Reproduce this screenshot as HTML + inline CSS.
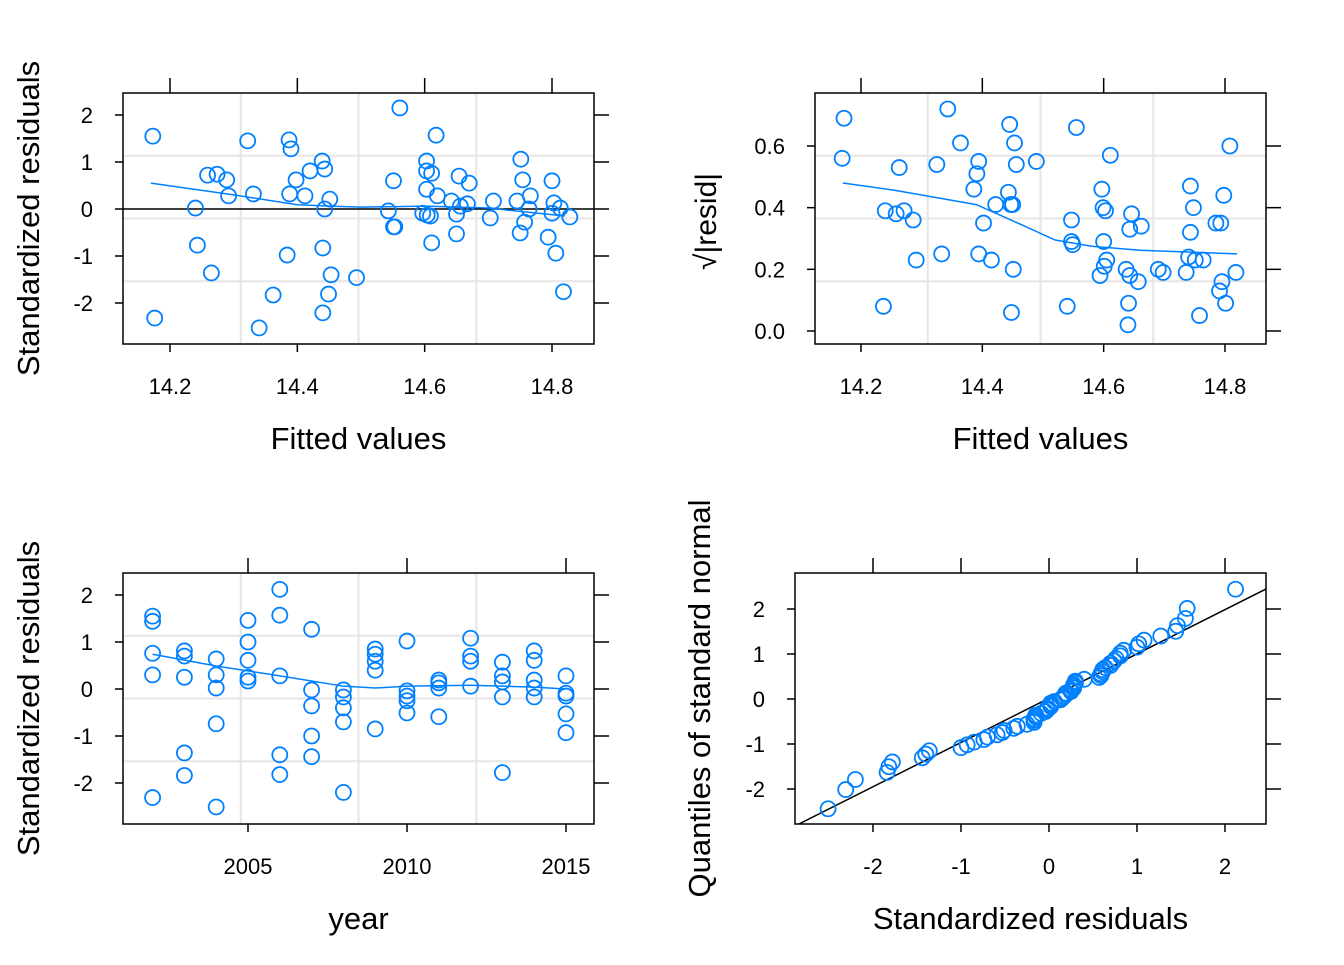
<!DOCTYPE html>
<html><head><meta charset="utf-8"><style>
body{margin:0;background:#fff}
svg text{font-family:"Liberation Sans",Arial,sans-serif;fill:#000}
</style></head><body>
<svg id="c" width="1344" height="960" viewBox="0 0 1344 960"></svg>
<script>
// ---- data ----
const fittedP1 = [14.173,14.176,14.240,14.243,14.259,14.265,14.274,14.289,14.292,14.322,14.331,14.340,14.362,14.384,14.387,14.390,14.388,14.398,14.412,14.420,14.439,14.443,14.443,14.451,14.440,14.453,14.449,14.440,14.493,14.543,14.551,14.551,14.553,14.561,14.597,14.603,14.603,14.603,14.611,14.611,14.609,14.604,14.618,14.620,14.642,14.650,14.650,14.654,14.656,14.670,14.667,14.703,14.708,14.745,14.751,14.754,14.750,14.757,14.766,14.764,14.794,14.800,14.800,14.803,14.806,14.813,14.818,14.828];
const stdResP1 = [1.55,-2.32,0.02,-0.77,0.72,-1.36,0.74,0.62,0.28,1.45,0.32,-2.53,-1.83,-0.98,1.47,1.28,0.32,0.62,0.28,0.81,1.02,0.85,0.00,0.21,-0.83,-1.40,-1.81,-2.21,-1.46,-0.04,0.60,-0.38,-0.38,2.15,-0.09,0.42,1.02,0.81,0.76,-0.72,-0.15,-0.13,1.57,0.28,0.17,-0.11,-0.53,0.70,0.06,0.55,0.11,-0.19,0.17,0.17,1.06,0.62,-0.51,-0.28,0.28,0.00,-0.60,0.60,-0.09,0.13,-0.94,0.02,-1.76,-0.17];
const fittedP2 = [14.172,14.169,14.237,14.240,14.258,14.263,14.271,14.286,14.291,14.325,14.333,14.343,14.364,14.386,14.391,14.394,14.394,14.402,14.415,14.422,14.445,14.443,14.447,14.450,14.453,14.456,14.451,14.448,14.489,14.540,14.547,14.547,14.549,14.555,14.594,14.597,14.599,14.600,14.603,14.605,14.601,14.611,14.637,14.640,14.643,14.646,14.641,14.643,14.657,14.662,14.690,14.698,14.736,14.740,14.743,14.743,14.748,14.751,14.758,14.764,14.785,14.791,14.793,14.795,14.798,14.801,14.808,14.818];
const sqrtResP2 = [0.69,0.56,0.08,0.39,0.38,0.53,0.39,0.36,0.23,0.54,0.25,0.72,0.61,0.46,0.51,0.55,0.25,0.35,0.23,0.41,0.67,0.45,0.41,0.41,0.61,0.54,0.20,0.06,0.55,0.08,0.36,0.29,0.28,0.66,0.18,0.46,0.40,0.29,0.39,0.23,0.21,0.57,0.20,0.02,0.18,0.38,0.09,0.33,0.16,0.34,0.20,0.19,0.19,0.24,0.47,0.32,0.40,0.23,0.05,0.23,0.35,0.13,0.35,0.16,0.44,0.09,0.60,0.19];
const smoothP1X = [14.17,14.30,14.40,14.45,14.50,14.60,14.70,14.82];
const smoothP1Y = [0.55,0.30,0.09,0.06,0.04,0.06,0.02,-0.15];
const smoothP2X = [14.17,14.26,14.39,14.47,14.52,14.58,14.66,14.82];
const smoothP2Y = [0.48,0.455,0.41,0.34,0.295,0.275,0.262,0.25];
const years = [2002,2002,2002,2002,2002,2003,2003,2003,2003,2003,2004,2004,2004,2004,2004,2005,2005,2005,2005,2005,2006,2006,2006,2006,2006,2007,2007,2007,2007,2007,2008,2008,2008,2008,2008,2009,2009,2009,2009,2009,2010,2010,2010,2010,2010,2011,2011,2011,2011,2012,2012,2012,2012,2013,2013,2013,2013,2013,2014,2014,2014,2014,2014,2015,2015,2015,2015,2015];
const stdResP3 = [1.55,1.44,0.76,0.30,-2.31,0.81,0.70,0.25,-1.36,-1.84,0.64,0.30,0.02,-0.74,-2.51,1.46,1.00,0.61,0.25,0.17,2.12,1.57,0.28,-1.40,-1.82,1.27,-0.02,-0.36,-1.00,-1.44,-0.02,-0.17,-0.40,-0.70,-2.20,0.85,0.74,0.59,0.40,-0.85,1.02,-0.04,-0.15,-0.25,-0.51,0.19,0.13,0.02,-0.59,1.08,0.70,0.59,0.06,0.57,0.28,0.15,-0.17,-1.78,0.81,0.61,0.19,0.02,-0.17,0.28,-0.09,-0.15,-0.53,-0.93];
const smoothP3X = [2002,2004,2006,2008,2009,2010,2012,2014,2015];
const smoothP3Y = [0.74,0.49,0.28,0.06,0.02,0.06,0.08,0.04,0.00];
const qqLineIntercept = [0.018];
const qqLineSlope = [0.984];
const ticksP1X = [14.2,14.4,14.6,14.8], ticksP1Y = [-2,-1,0,1,2];
const ticksP2Y = [0.0,0.2,0.4,0.6];
const ticksP3X = [2005,2010,2015];
const ticksP4 = [-2,-1,0,1,2];

const NS='http://www.w3.org/2000/svg';
const svg=document.getElementById('c');
function el(tag,attrs,parent){const e=document.createElementNS(NS,tag);for(const k in attrs)e.setAttribute(k,attrs[k]);(parent||svg).appendChild(e);return e;}
function lin(d0,d1,r0,r1){return v=>r0+(v-d0)*(r1-r0)/(d1-d0);}
const BLUE='#0080ff';

function panel(o){
  const g=el('g',{});
  
  
  const {L,T,R,B}=o;
  if(o.grid){
    [0.25,0.5,0.75].forEach(f=>{
      const gl=el('line',{x1:L+f*(R-L),x2:L+f*(R-L),y1:T,y2:B,stroke:'#e6e6e6','stroke-width':2},g);
      
      const gh=el('line',{x1:L,x2:R,y1:T+f*(B-T),y2:T+f*(B-T),stroke:'#e6e6e6','stroke-width':2},g);
      
    });
  }
  const fr=el('rect',{x:L,y:T,width:R-L,height:B-T,fill:'none',stroke:'#000','stroke-width':1.5},g);
  
  o.xt.forEach(v=>{const x=o.sx(v);
    el('line',{x1:x,x2:x,y1:B,y2:B+8,stroke:'#000','stroke-width':1.5},g);
    el('line',{x1:x,x2:x,y1:T,y2:T-15,stroke:'#000','stroke-width':1.5},g);
    const t=el('text',{x:x,y:B+50,'text-anchor':'middle','font-size':22},g);t.textContent=o.xfmt(v);
    });
  o.yt.forEach(v=>{const y=o.sy(v);
    el('line',{x1:L,x2:L-8,y1:y,y2:y,stroke:'#000','stroke-width':1.5},g);
    el('line',{x1:R,x2:R+15,y1:y,y2:y,stroke:'#000','stroke-width':1.5},g);
    const t=el('text',{x:L-30,y:y+8,'text-anchor':'end','font-size':22},g);t.textContent=o.yfmt(v);
    });
  const xl=el('text',{x:(L+R)/2,y:B+105,'text-anchor':'middle','font-size':31},g);xl.textContent=o.xlab;
  
  const yl=el('text',{x:0,y:0,'text-anchor':'middle','font-size':31,transform:`translate(${o.ylx},${(T+B)/2}) rotate(-90)`},g);yl.textContent=o.ylab;
  
  return g;
}
function points(g,xs,ys,sx,sy){
  xs.forEach((v,i)=>{const c=el('circle',{cx:sx(v),cy:sy(ys[i]),r:7.5,fill:'none',stroke:BLUE,'stroke-width':1.8},g);
    });
}
function curve(g,xs,ys,sx,sy,color,w){
  const p=el('polyline',{points:xs.map((v,i)=>sx(v)+','+sy(ys[i])).join(' '),fill:'none',stroke:color,'stroke-width':w},g);
  
}
const f1=v=>v.toFixed(1);
const fm=v=>String(v);

// Panel 1
{const sx=lin(14.2,14.8,170,552),sy=lin(0,2,209,115);
 const g=panel({name:'residuals-vs-fitted',L:123,T:93,R:594,B:344,sx,sy,xt:ticksP1X,yt:ticksP1Y,xfmt:f1,yfmt:fm,xlab:'Fitted values',ylab:'Standardized residuals',ylx:39,grid:true});
 const h=el('line',{x1:123,x2:594,y1:sy(0),y2:sy(0),stroke:'#000','stroke-width':1.5},g);
 
 points(g,fittedP1,stdResP1,sx,sy);curve(g,smoothP1X,smoothP1Y,sx,sy,BLUE,1.5);}
// Panel 2
{const sx=lin(14.2,14.8,861,1225),sy=lin(0,0.6,331,146);
 const g=panel({name:'scale-location',L:815,T:93,R:1266,B:344,sx,sy,xt:ticksP1X,yt:ticksP2Y,xfmt:f1,yfmt:f1,xlab:'Fitted values',ylab:'',ylx:712,grid:true});
 const t=el('text',{x:0,y:0,'font-size':30,transform:'translate(716,270) rotate(-90)'},g);
 t.textContent='√|resid|';
 points(g,fittedP2,sqrtResP2,sx,sy);curve(g,smoothP2X,smoothP2Y,sx,sy,BLUE,1.5);}
// Panel 3
{const sx=lin(2005,2015,248,566),sy=lin(0,2,689,595);
 const g=panel({name:'residuals-vs-year',L:123,T:573,R:594,B:824,sx,sy,xt:ticksP3X,yt:ticksP1Y,xfmt:String,yfmt:fm,xlab:'year',ylab:'Standardized residuals',ylx:39,grid:true});
 points(g,years,stdResP3,sx,sy);curve(g,smoothP3X,smoothP3Y,sx,sy,BLUE,1.5);}
// Panel 4 QQ
function qnorm(p){const a=[-39.6968302866538,220.946098424521,-275.928510446969,138.357751867269,-30.6647980661472,2.50662827745924],
 b=[-54.4760987982241,161.585836858041,-155.698979859887,66.8013118877197,-13.2806815528857],
 c=[-0.00778489400243029,-0.322396458041136,-2.40075827716184,-2.54973253934373,4.37466414146497,2.93816398269878],
 d=[0.00778469570904146,0.32246712907004,2.445134137143,3.75440866190742];
 const pl=0.02425;let q,r;
 if(p<pl){q=Math.sqrt(-2*Math.log(p));return (((((c[0]*q+c[1])*q+c[2])*q+c[3])*q+c[4])*q+c[5])/((((d[0]*q+d[1])*q+d[2])*q+d[3])*q+1);}
 if(p>1-pl){q=Math.sqrt(-2*Math.log(1-p));return -(((((c[0]*q+c[1])*q+c[2])*q+c[3])*q+c[4])*q+c[5])/((((d[0]*q+d[1])*q+d[2])*q+d[3])*q+1);}
 q=p-0.5;r=q*q;return (((((a[0]*r+a[1])*r+a[2])*r+a[3])*r+a[4])*r+a[5])*q/(((((b[0]*r+b[1])*r+b[2])*r+b[3])*r+b[4])*r+1);}
{const sx=lin(0,1,1049,1137),sy=lin(0,1,699,654);
 const g=panel({name:'normal-qq',L:795,T:573,R:1266,B:824,sx,sy,xt:ticksP4,yt:ticksP4,xfmt:fm,yfmt:fm,xlab:'Standardized residuals',ylab:'Quantiles of standard normal',ylx:710,grid:false});
 const s=stdResP3.slice().sort((a,b)=>a-b),n=s.length;
 const th=s.map((v,i)=>qnorm((i+0.5)/n));
 const cp=el('clipPath',{id:'cp4'},g);el('rect',{x:795,y:573,width:471,height:251},cp);
 const ic=qqLineIntercept[0],sl=qqLineSlope[0];
 const ln=el('line',{x1:sx(-4),y1:sy(ic+sl*-4),x2:sx(4),y2:sy(ic+sl*4),stroke:'#000','stroke-width':1.5,'clip-path':'url(#cp4)'},g);
 
 points(g,s,th,sx,sy);}
</script>
</body></html>
